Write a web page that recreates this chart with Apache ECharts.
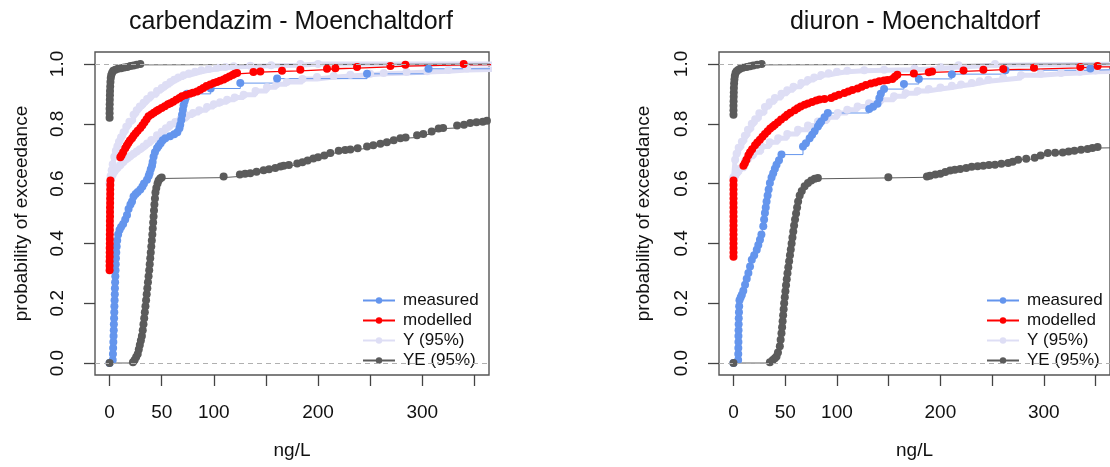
<!DOCTYPE html>
<html>
<head>
<meta charset="utf-8">
<script src="https://cdn.jsdelivr.net/npm/echarts@6/dist/echarts.min.js"></script>
<style>html,body{margin:0;padding:0;background:#fff;}#chart{width:1110px;height:467px;}</style>
</head>
<body>
<div id="chart"></div>
<script>
// ---------- tick labels ----------
const xTicks = [0, 50, 100, 150, 200, 250, 300, 350];
const xLabels = [0, 50, 100, 200, 300];
const yTicks = [0, 0.2, 0.4, 0.6, 0.8, 1.0];
const seriesNames = ['measured', 'modelled', 'Y (95%)', 'YE (95%)'];
const panelTitles = ['carbendazim - Moenchaltdorf', 'diuron - Moenchaltdorf'];

// ---------- carbendazim ----------
const measuredC = [[0,0],[3.0,0.01],[3.2,0.03],[3.4,0.05],[3.6,0.07],[3.8,0.09],[4.0,0.11],[4.1,0.13],[4.3,0.15],[4.5,0.17],[4.6,0.19],[4.8,0.21],[5.0,0.23],[5.1,0.25],[5.3,0.27],[5.5,0.29],[5.7,0.31],[5.9,0.33],[6.1,0.35],[6.4,0.37],[6.8,0.39],[7.3,0.41],[8.2,0.43],[9.5,0.445],[11,0.455],[13,0.465],[15,0.48],[16.7,0.495],[18.2,0.515],[20,0.53],[21.5,0.54],[23,0.557],[25,0.565],[27,0.572],[29.5,0.58],[31.5,0.59],[33,0.6],[35.9,0.613],[37.5,0.625],[38.4,0.635],[39.5,0.648],[40.7,0.66],[41.3,0.672],[42.2,0.69],[43.5,0.705],[45.5,0.718],[47,0.726],[49,0.735],[51,0.745],[53.5,0.752],[58,0.758],[62,0.765],[65,0.772],[67,0.785],[67.8,0.797],[68.8,0.813],[69.5,0.83],[70.3,0.847],[71,0.862],[72,0.875],[73,0.886],[74.3,0.9],[97,0.918],[125.4,0.936],[160.7,0.951],[247,0.967],[306,0.984]];
const modelledColC = [[0,0.31],[0,0.325],[0,0.34],[0.1,0.355],[0.1,0.37],[0.1,0.385],[0.2,0.40],[0.2,0.415],[0.2,0.43],[0.3,0.445],[0.3,0.46],[0.3,0.475],[0.4,0.49],[0.4,0.505],[0.4,0.52],[0.5,0.535],[0.5,0.55],[0.6,0.565],[0.6,0.58],[0.7,0.595],[0.8,0.61]];
const modelledC = [[10.3,0.688],[11.5,0.695],[13,0.705],[15,0.718],[16.5,0.727],[18,0.736],[19.5,0.744],[21.5,0.752],[23,0.76],[25,0.768],[27,0.777],[29.5,0.786],[31.5,0.795],[33.5,0.805],[35.5,0.815],[37.4,0.825],[40,0.831],[42.5,0.837],[45,0.843],[47,0.847],[50,0.853],[53,0.859],[56,0.865],[58.3,0.869],[61,0.874],[64,0.88],[67,0.886],[69.5,0.892],[73,0.896],[77,0.9],[80,0.904],[83.9,0.908],[87,0.914],[90,0.92],[93,0.926],[96.6,0.931],[100,0.936],[103,0.94],[106,0.944],[109.4,0.948],[112,0.953],[115,0.958],[118,0.963],[120,0.967],[122.3,0.97],[138,0.973],[144.6,0.975],[165.4,0.977],[183,0.981],[208.6,0.984],[216.6,0.986],[237.4,0.99],[269.4,0.993],[283.8,0.997],[339.7,1.0]];
const yUpperC = [[0,0.6],[1,0.625],[2,0.645],[3,0.665],[4.5,0.69],[6,0.71],[7.5,0.725],[9,0.74],[11,0.755],[13.4,0.772],[16,0.79],[19,0.807],[23,0.83],[26,0.845],[29,0.858],[32.6,0.87],[36,0.883],[40,0.895],[45.5,0.91],[50,0.92],[54,0.93],[58.3,0.94],[62,0.947],[66,0.955],[71,0.962],[76,0.968],[82,0.974],[88,0.979],[95,0.983],[103,0.987],[111,0.99],[119,0.992],[135,0.994],[155,0.996],[183,1.0],[200,1.0]];
const yLowerC = [[0,0.6],[1,0.615],[3,0.63],[5,0.642],[7.5,0.652],[10.3,0.662],[13,0.672],[16,0.682],[19.9,0.692],[23,0.7],[26,0.707],[29,0.715],[32.6,0.724],[36,0.734],[40,0.746],[45.5,0.762],[50,0.773],[54,0.785],[58.3,0.797],[63,0.806],[68,0.816],[74.3,0.828],[80,0.836],[86,0.845],[93.5,0.856],[100,0.865],[106,0.872],[112.7,0.88],[120,0.888],[128.6,0.897],[140,0.91],[151,0.922],[160,0.932],[170,0.94],[185,0.95],[199,0.956],[215,0.96],[231,0.964],[250,0.967],[263,0.97],[285,0.973],[304.6,0.976],[325,0.98],[343,0.985]];
const yeAC = [[0,0.82],[0,0.835],[0,0.85],[0.1,0.865],[0.2,0.88],[0.3,0.895],[0.4,0.91],[0.6,0.925],[0.8,0.94],[1.1,0.953],[1.6,0.963],[2.4,0.971],[3.5,0.977],[5.5,0.981],[8,0.984],[11,0.986],[14,0.988],[17,0.99],[20,0.993],[23,0.995],[26,0.997],[29.5,1.0]];
const yeBC = [[0,0],[22.4,0.003],[24,0.01],[25.5,0.02],[27,0.03],[28,0.045],[29,0.06],[30,0.075],[31,0.09],[31.8,0.11],[32.5,0.13],[33.2,0.15],[33.8,0.17],[34.4,0.19],[35,0.21],[35.6,0.23],[36.2,0.25],[36.8,0.27],[37.4,0.29],[38,0.31],[38.5,0.33],[39,0.35],[39.5,0.37],[40,0.39],[40.5,0.41],[41,0.43],[41.4,0.45],[41.8,0.47],[42.2,0.49],[42.6,0.51],[43,0.53],[43.5,0.55],[44,0.57],[44.8,0.585],[46,0.6],[47,0.61],[48.5,0.617],[50,0.62],[109.4,0.624],[125,0.63],[130,0.633],[135,0.635],[141,0.64],[147.8,0.645],[153,0.648],[159,0.652],[164,0.657],[167,0.66],[172,0.662],[180,0.667],[185,0.671],[190,0.677],[195.5,0.684],[200,0.688],[206,0.694],[211.8,0.702],[219.8,0.71],[226,0.712],[231,0.714],[238,0.718],[247,0.724],[253,0.728],[259.8,0.733],[266,0.738],[272.6,0.745],[279,0.752],[284,0.754],[295,0.762],[301,0.766],[309,0.774],[315.7,0.784],[320,0.786],[333.4,0.794],[340,0.797],[346,0.803],[352,0.805],[358,0.807],[362,0.81]];

// ---------- diuron ----------
const measuredD = [[0,0],[4.5,0.01],[4.6,0.03],[4.7,0.05],[4.8,0.07],[4.8,0.09],[4.9,0.11],[5.0,0.13],[5.1,0.15],[5.3,0.17],[5.5,0.19],[5.8,0.21],[7,0.22],[8.1,0.228],[9.5,0.242],[11.2,0.262],[12.8,0.282],[14.4,0.301],[16,0.323],[17.7,0.345],[20,0.36],[22.5,0.379],[24,0.395],[25.6,0.412],[27,0.43],[28.8,0.457],[29.6,0.48],[30.4,0.502],[31.2,0.52],[32,0.54],[33,0.56],[34,0.58],[35.2,0.602],[36.8,0.62],[38.4,0.635],[40,0.65],[41.6,0.663],[44,0.678],[46.4,0.697],[67.2,0.724],[70,0.735],[73.6,0.752],[76,0.763],[78.4,0.775],[81.6,0.791],[83.2,0.8],[84.8,0.808],[88,0.822],[91.2,0.836],[131.2,0.849],[135,0.857],[139.2,0.867],[141,0.885],[142.4,0.9],[145.6,0.916],[164.8,0.933],[179.2,0.95],[211.1,0.966],[263,0.979],[345,0.985]];
const modelledColD = [[0,0.355],[0,0.37],[0,0.385],[0,0.40],[0,0.415],[0,0.43],[0,0.445],[0,0.46],[0,0.475],[0,0.49],[0,0.505],[0,0.52],[0,0.535],[0,0.55],[0,0.565],[0,0.58],[0,0.595],[0,0.61]];
const modelledD = [[9.6,0.66],[11,0.668],[12.5,0.68],[14.4,0.695],[16,0.705],[18,0.715],[20.8,0.728],[23,0.737],[25.5,0.747],[28,0.757],[30.4,0.766],[33,0.775],[35.5,0.784],[38,0.791],[40,0.797],[43,0.805],[46,0.814],[49.6,0.823],[52,0.83],[55,0.837],[59.2,0.845],[62,0.852],[65,0.858],[68.8,0.864],[72,0.868],[76,0.873],[80,0.878],[83.2,0.881],[88,0.883],[94.4,0.886],[98,0.892],[102,0.897],[107.2,0.903],[111,0.908],[115,0.913],[120,0.918],[124,0.924],[128,0.93],[132.8,0.935],[137,0.938],[141,0.942],[145.6,0.945],[149,0.946],[153.6,0.95],[156,0.957],[158.4,0.964],[174.4,0.968],[188.8,0.972],[192,0.975],[222.4,0.978],[241.6,0.981],[260.8,0.983],[290.5,0.987],[335.3,0.99],[352,0.993]];
const yUpperD = [[0,0.62],[1.6,0.68],[3,0.7],[5,0.72],[8.1,0.74],[11,0.76],[14,0.78],[17.7,0.8],[21,0.815],[25,0.835],[30.4,0.856],[35,0.872],[40,0.886],[46.4,0.9],[52,0.912],[58,0.924],[65.6,0.936],[72,0.946],[78,0.955],[84.8,0.963],[92,0.969],[100,0.974],[110,0.977],[126.4,0.979],[145.6,0.981],[175,0.985],[200,0.99],[217.6,0.996],[252.8,1.0]];
const yLowerD = [[0,0.62],[3,0.635],[6,0.65],[11.2,0.675],[15,0.69],[20,0.705],[27.2,0.724],[35,0.738],[43.2,0.752],[52,0.766],[62.4,0.78],[72,0.794],[81.6,0.808],[91,0.822],[100.8,0.836],[110,0.847],[120,0.858],[131,0.869],[142.4,0.88],[155.2,0.892],[166.4,0.902],[178,0.91],[188.8,0.916],[200,0.921],[211.1,0.927],[220,0.931],[230.3,0.936],[238,0.942],[246.4,0.947],[260.8,0.953],[278,0.962],[297,0.967],[316.7,0.97],[335,0.974],[350,0.978]];
const yeAD = [[0,0.83],[0,0.845],[0,0.86],[0.1,0.875],[0.2,0.89],[0.3,0.905],[0.4,0.92],[0.6,0.935],[0.9,0.948],[1.3,0.96],[2,0.97],[3,0.976],[4.5,0.98],[6.4,0.984],[9,0.987],[12.8,0.99],[16,0.992],[19.2,0.995],[23,0.997],[27.2,1.0]];
const yeBD = [[0,0],[35.2,0.003],[38,0.01],[40,0.016],[41.6,0.022],[43,0.035],[44.8,0.056],[45.6,0.078],[46.4,0.1],[47,0.12],[47.5,0.14],[48,0.16],[48.5,0.18],[49,0.2],[49.6,0.22],[50.2,0.24],[50.8,0.26],[51.5,0.28],[52.2,0.3],[53,0.32],[53.8,0.34],[54.6,0.36],[55.4,0.38],[56.2,0.4],[57,0.42],[57.8,0.44],[58.6,0.46],[59.5,0.48],[60.5,0.5],[61.5,0.52],[62.5,0.54],[64,0.56],[66,0.575],[68.8,0.591],[72,0.602],[75.2,0.61],[78.5,0.616],[81.6,0.619],[149.7,0.621],[187,0.624],[190,0.626],[195.2,0.63],[200,0.633],[204.8,0.639],[209.5,0.644],[214,0.646],[219.2,0.649],[225,0.652],[230.3,0.656],[236,0.658],[241.5,0.66],[247,0.662],[252.8,0.663],[259,0.666],[265.5,0.669],[270,0.673],[275.2,0.68],[283,0.683],[291.2,0.686],[297,0.694],[303.9,0.702],[311,0.703],[318.3,0.704],[324,0.707],[329.6,0.71],[336,0.713],[342.3,0.716],[347,0.719],[352,0.722]];

// ---------- styling ----------
const FONT = "'Liberation Sans', Arial, Helvetica, sans-serif";
const COL = {measured:'#6495ED', modelled:'#FF0000', band:'#DEDEF5', ye:'#5B5B5B'};
const X_MIN = -14, X_MAX = 364, Y_MIN = -0.04, Y_MAX = 1.04, X_END = 420;
const panels = [
  {left:95, title:panelTitles[0], titleX:291, measured:measuredC, modCol:modelledColC, modelled:modelledC, up:yUpperC, lo:yLowerC, yeA:yeAC, yeB:yeBC, legendLeft:357, nameGapY:64},
  {left:719, title:panelTitles[1], titleX:915, measured:measuredD, modCol:modelledColD, modelled:modelledD, up:yUpperD, lo:yLowerD, yeA:yeAD, yeB:yeBD, legendLeft:981, nameGapY:66}
];

function withTail(arr){
  const out = arr.map(p => p);
  const last = arr[arr.length-1];
  out.push({value:[X_END, last[1]], symbol:'none'});
  return out;
}
function stepSeries(name, data, gi, color, opt, noTail){
  return Object.assign({
    name: name, type:'line', step:'end', xAxisIndex:gi, yAxisIndex:gi,
    data: noTail ? data : withTail(data), symbol:'circle', symbolSize:8, showSymbol:true,
    itemStyle:{color:color}, lineStyle:{color:color, width:1},
    emphasis:{disabled:true}, animation:false, clip:true
  }, opt||{});
}

const grids = [], xAxes = [], yAxes = [], series = [], legends = [], graphics = [];
panels.forEach((p, gi) => {
  grids.push({left:p.left, top:52, width:394, height:323, show:true, borderColor:'#555', borderWidth:1.4, backgroundColor:'transparent'});
  xAxes.push({type:'value', gridIndex:gi, min:X_MIN, max:X_MAX,
    name:'ng/L', nameLocation:'middle', nameGap:66, nameTextStyle:{fontSize:19, color:'#111', fontFamily:FONT},
    axisLine:{show:false, onZero:false}, splitLine:{show:false},
    axisTick:{show:true, length:11, inside:false, customValues:xTicks, lineStyle:{color:'#444', width:1.3}},
    axisLabel:{customValues:xLabels, margin:28, fontSize:19, color:'#111', fontFamily:FONT}});
  yAxes.push({type:'value', gridIndex:gi, min:Y_MIN, max:Y_MAX,
    name:'probability of exceedance', nameLocation:'middle', nameGap:p.nameGapY, nameTextStyle:{fontSize:19, color:'#111', fontFamily:FONT},
    axisLine:{show:false, onZero:false}, splitLine:{show:false},
    axisTick:{show:true, length:11, inside:false, customValues:yTicks, lineStyle:{color:'#444', width:1.3}},
    axisLabel:{customValues:yTicks, rotate:90, margin:28, fontSize:19, color:'#111', fontFamily:FONT, formatter:v => v.toFixed(1)}});
  series.push(stepSeries(seriesNames[2], p.up, gi, COL.band, {lineStyle:{color:COL.band, width:5}}));
  series.push(stepSeries(seriesNames[2], p.lo, gi, COL.band, {lineStyle:{color:COL.band, width:5}}));
  series.push(stepSeries(seriesNames[0], p.measured, gi, COL.measured));
  series.push(stepSeries(seriesNames[1], p.modCol, gi, COL.modelled, {lineStyle:{color:COL.modelled, width:1.3}}, true));
  series.push(stepSeries(seriesNames[1], p.modelled, gi, COL.modelled, {lineStyle:{color:COL.modelled, width:1.3}}));
  series.push(stepSeries(seriesNames[3], p.yeA, gi, COL.ye));
  series.push(stepSeries(seriesNames[3], p.yeB, gi, COL.ye, {
    markLine:{silent:true, symbol:['none','none'], label:{show:false}, animation:false,
      lineStyle:{color:'#b0b0b0', type:[5,4], width:1}, emphasis:{disabled:true},
      data:[{yAxis:0},{yAxis:1}]}
  }));
  legends.push({orient:'vertical', left:p.legendLeft, top:287, itemGap:3, itemWidth:32, itemHeight:8,
    selectedMode:false, data:[seriesNames[0], seriesNames[1], seriesNames[2], seriesNames[3]],
    lineStyle:{width:2}, textStyle:{fontSize:17, lineHeight:17, color:'#111', fontFamily:FONT, padding:[0,0,0,3]}});
  graphics.push({type:'text', x:p.titleX, y:22, style:{text:p.title, fill:'#111', font:'25px ' + FONT, textAlign:'center', textVerticalAlign:'middle'}});
});

const chart = echarts.init(document.getElementById('chart'), null, {renderer:'canvas'});
chart.setOption({
  animation:false, backgroundColor:'#fff',
  textStyle:{fontFamily:FONT},
  grid:grids, xAxis:xAxes, yAxis:yAxes, series:series, legend:legends, graphic:graphics
});
</script>
</body>
</html>
